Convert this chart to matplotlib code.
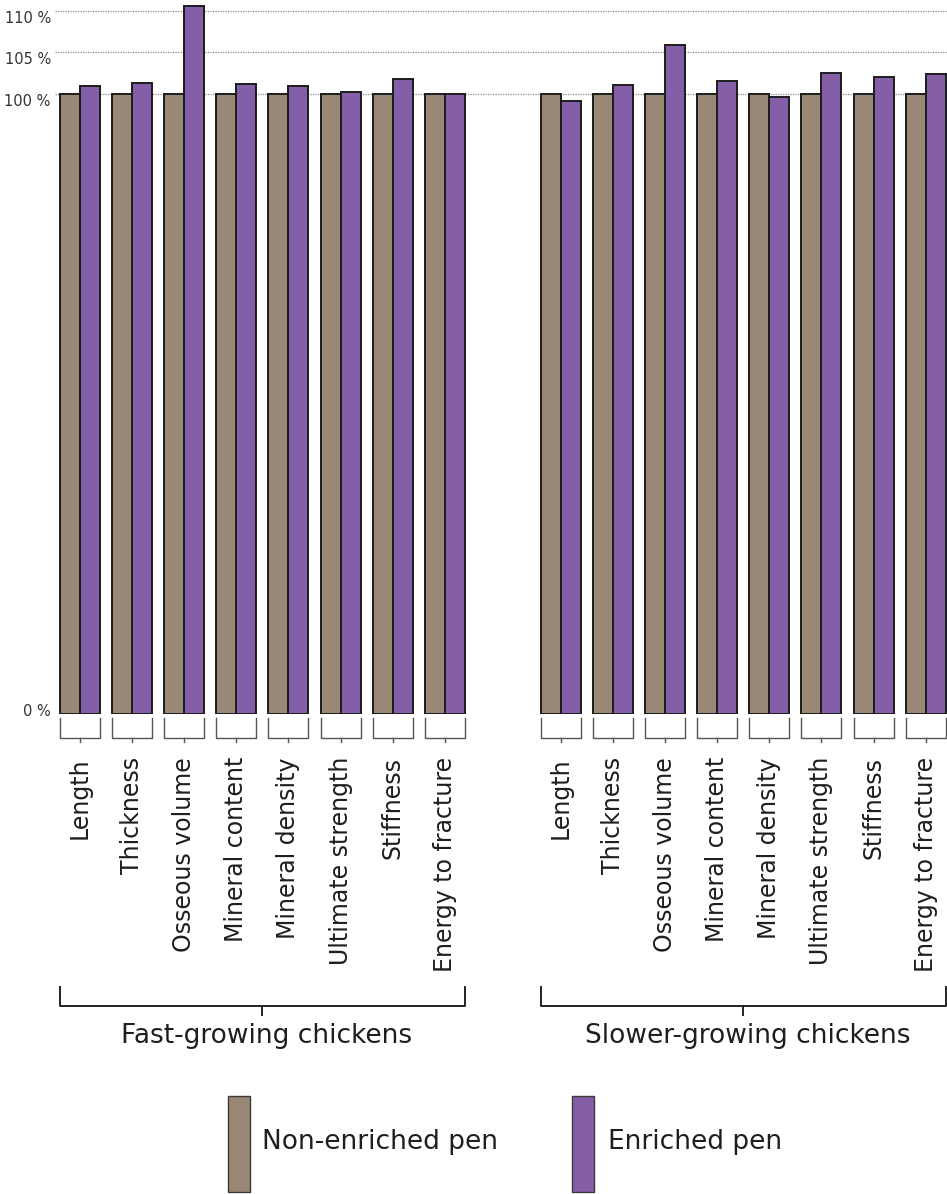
import numpy as np
import matplotlib
matplotlib.use("Agg")
import matplotlib.pyplot as plt
from matplotlib.patches import Rectangle
from matplotlib.transforms import ScaledTranslation, blended_transform_factory

# ---- data -------------------------------------------------------------
measures = ["Length", "Thickness", "Osseous volume", "Mineral content",
            "Mineral density", "Ultimate strength", "Stiffness",
            "Energy to fracture"]
groups = ["Fast-growing chickens", "Slower-growing chickens"]
series = ["Non-enriched pen", "Enriched pen"]

fast_non_enriched = [100, 100, 100, 100, 100, 100, 100, 100]
fast_enriched = [101.0, 101.3, 110.5, 101.2, 101.0, 100.2, 101.8, 100.0]
slow_non_enriched = [100, 100, 100, 100, 100, 100, 100, 100]
slow_enriched = [98.9, 101.1, 105.9, 101.6, 99.5, 102.5, 102.0, 102.4]

y_ticks = [0, 100, 105, 110]
y_tick_labels = ["0 %", "100 %", "105 %", "110 %"]

# ---- style ------------------------------------------------------------
C_NON = "#9a8876"
C_ENR = "#845ea7"
EDGE = "#1c1c1c"
TEXT = "#1e1e1e"
plt.rcParams["font.family"] = ["DejaVu Sans"]

W, H = 947, 1194
fig = plt.figure(figsize=(W / 100, H / 100), dpi=100)


def fx(px):
    return px / W


def fy(py):
    return 1 - py / H


ax = fig.add_axes([fx(55), fy(714), fx(947) - fx(55), fy(0) - fy(714)])

# piecewise-linear value axis: the band above 100 % is stretched
LOW, HIGH = 6.2, 8.33


def fwd(v):
    v = np.asarray(v, dtype=float)
    return np.where(v <= 100, v * LOW, 100 * LOW + (v - 100) * HIGH)


def inv(u):
    u = np.asarray(u, dtype=float)
    return np.where(u <= 100 * LOW, u / LOW, 100 + (u - 100 * LOW) / HIGH)


ax.set_yscale("function", functions=(fwd, inv))
ax.set_ylim(0, 111.28)

n = len(measures)
gap = 9.23
centers_fast = np.arange(n, dtype=float)
centers_slow = np.arange(n, dtype=float) + gap
ax.set_xlim(-0.48, 16.64)
bw = 0.384

for centers, non, enr in [(centers_fast, fast_non_enriched, fast_enriched),
                          (centers_slow, slow_non_enriched, slow_enriched)]:
    ax.bar(centers - bw / 2, non, width=bw, color=C_NON, edgecolor=EDGE,
           linewidth=1.4, zorder=3)
    ax.bar(centers + bw / 2, enr, width=bw, color=C_ENR, edgecolor=EDGE,
           linewidth=1.4, zorder=3)

# dotted reference lines
for v in y_ticks[1:]:
    ax.axhline(v, color="#8a8a8a", linestyle=(0, (1, 1)), linewidth=0.9,
               zorder=1)

for s in ax.spines.values():
    s.set_visible(False)

# y tick labels
ax.set_yticks(y_ticks, y_tick_labels)
ax.tick_params(axis="y", length=0, pad=3, labelsize=10.5, labelcolor="#333333")
for v, lab in zip(y_ticks, ax.get_yticklabels()):
    dy = 4 if v == 0 else -6
    lab.set_transform(lab.get_transform()
                      + ScaledTranslation(0, dy / 100, fig.dpi_scale_trans))

# category labels
all_centers = np.concatenate([centers_fast, centers_slow])
ax.set_xticks(all_centers, measures * 2, rotation=90)
ax.tick_params(axis="x", length=0, pad=31, labelsize=17, labelcolor=TEXT)

# per-pair brackets under the bars
trans = blended_transform_factory(ax.transData, fig.transFigure)
for c in all_centers:
    ax.plot([c - bw, c - bw, c + bw, c + bw],
            [fy(718), fy(738), fy(738), fy(718)],
            color="#555555", linewidth=1.0, transform=trans, clip_on=False)
    ax.plot([c, c], [fy(738), fy(742)], color="#555555", linewidth=1.0,
            transform=trans, clip_on=False)

# group brackets and names
for centers, name in [(centers_fast, groups[0]), (centers_slow, groups[1])]:
    x0, x1 = centers[0] - bw, centers[-1] + bw
    mid = (x0 + x1) / 2
    ax.plot([x0, x0, x1, x1], [fy(987), fy(1006), fy(1006), fy(987)],
            color="#222222", linewidth=1.4, transform=trans, clip_on=False)
    ax.plot([mid, mid], [fy(1006), fy(1015)], color="#222222",
            linewidth=1.4, transform=trans, clip_on=False)
    ax.text(mid + 0.08, fy(1036), name, transform=trans, ha="center",
            va="center", fontsize=19, color=TEXT)

# legend
for x_box, x_txt, col, name in [(228, 262, C_NON, series[0]),
                                (572, 608, C_ENR, series[1])]:
    fig.patches.append(Rectangle((fx(x_box), fy(1192)), fx(22), 96 / H,
                                 transform=fig.transFigure, facecolor=col,
                                 edgecolor="#3a3a3a", linewidth=1.0))
    fig.text(fx(x_txt), fy(1142), name, ha="left", va="center",
             fontsize=19, color=TEXT)

fig.savefig("out.png", dpi=100)
